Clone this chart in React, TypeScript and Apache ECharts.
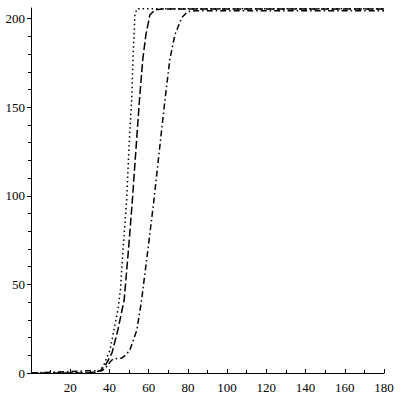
import React, { useEffect, useRef } from "react";
import * as echarts from "echarts";

// Dotted curve (leftmost)
const dottedX = [0, 30, 34, 36.7, 40.3, 42.3, 44.3, 45.6, 46.9, 48.8, 49.9, 51.3, 52.2, 53, 54, 60, 180];
const dottedY = [0, 0, 0.6, 3.4, 13, 24.3, 35.6, 46.9, 69.5, 97.7, 126, 154, 182.5, 202, 205.6, 205.6, 205.6];

// Dashed curve (middle)
const dashedX = [0, 29, 35.2, 38, 41.3, 44.3, 47.5, 49.7, 51.7, 53.5, 55.3, 57, 58.6, 60.6, 63.2, 66.8, 180];
const dashedY = [0, 0, 1.1, 4.5, 11.3, 24.3, 41.2, 69.5, 97.7, 126, 154, 177, 191, 202, 205, 205.4, 205.4];

// Dash-dot curve (right)
const dashDotX = [0, 29, 36, 37.7, 40.3, 41.8, 46.4, 48.4, 50.4, 54, 56.4, 59.6, 62.7, 65.5, 68.3, 70.8, 73.4, 76.9, 80, 83.6, 180];
const dashDotY = [0, 1.2, 1.2, 2.3, 6.2, 7.9, 8.5, 10.2, 13, 24.3, 41.2, 69.5, 97.7, 126, 154, 177, 191, 200.6, 204, 204.4, 204.4];

const xTicks = [20, 40, 60, 80, 100, 120, 140, 160, 180];
const yTicks = [0, 50, 100, 150, 200];

const zip = (xs: number[], ys: number[]) => xs.map((x, i) => [x, ys[i]]);

const FONT = "Liberation Serif";

export default function App() {
  const ref = useRef<HTMLDivElement>(null);
  useEffect(() => {
    if (!ref.current) return;
    const chart = echarts.init(ref.current, undefined, { renderer: "svg" });
    const plotTop = 8;
    const plotBottom = 27;
    const yMax = 206;
    const plotH = 400 - plotTop - plotBottom;
    const top200 = 400 - plotBottom - (yTicks[yTicks.length - 1] * plotH) / yMax;
    const lineCommon = { type: "line", showSymbol: false, symbol: "none", xAxisIndex: 0, yAxisIndex: 0 };
    chart.setOption({
      animation: false,
      backgroundColor: "#ffffff",
      textStyle: { fontFamily: FONT },
      grid: [
        { left: 31, right: 16, top: plotTop, bottom: plotBottom },
        { left: 31, right: 16, top: top200, bottom: plotBottom },
      ],
      xAxis: [
        {
          type: "value",
          gridIndex: 0,
          min: 0,
          max: xTicks[xTicks.length - 1],
          interval: 20,
          axisLine: { show: true, lineStyle: { color: "#000", width: 1 } },
          axisTick: { show: true, inside: true, length: 4, lineStyle: { color: "#000" } },
          minorTick: { show: true, splitNumber: 2, length: 3, lineStyle: { color: "#000" } },
          splitLine: { show: false },
          axisLabel: {
            show: true,
            showMinLabel: false,
            margin: 8,
            color: "#000",
            fontFamily: FONT,
            fontSize: 13,
          },
        },
        { type: "value", gridIndex: 1, min: 0, max: 180, show: false },
      ],
      yAxis: [
        {
          type: "value",
          gridIndex: 0,
          min: 0,
          max: yMax,
          axisLine: { show: true, lineStyle: { color: "#000", width: 1 } },
          axisTick: { show: false },
          axisLabel: { show: false },
          splitLine: { show: false },
        },
        {
          type: "value",
          gridIndex: 1,
          min: 0,
          max: yTicks[yTicks.length - 1],
          interval: 50,
          axisLine: { show: false },
          axisTick: { show: true, inside: false, length: 4, lineStyle: { color: "#000" } },
          minorTick: { show: true, splitNumber: 5, length: 3, lineStyle: { color: "#000" } },
          splitLine: { show: false },
          axisLabel: {
            show: true,
            margin: 6,
            color: "#000",
            fontFamily: FONT,
            fontSize: 13,
          },
        },
      ],
      series: [
        {
          ...lineCommon,
          data: zip(dottedX, dottedY),
          lineStyle: { color: "#000", width: 1.5, type: [1.5, 3] },
        },
        {
          ...lineCommon,
          data: zip(dashedX, dashedY),
          lineStyle: { color: "#000", width: 1.5, type: [8, 3] },
        },
        {
          ...lineCommon,
          data: zip(dashDotX, dashDotY),
          lineStyle: { color: "#000", width: 1.5, type: [6, 3, 1.5, 3] },
        },
      ],
    });
    return () => chart.dispose();
  }, []);
  return (
    <div
      ref={ref}
      style={{ position: "fixed", left: 0, top: 0, width: 400, height: 400, background: "#fff" }}
    />
  );
}
